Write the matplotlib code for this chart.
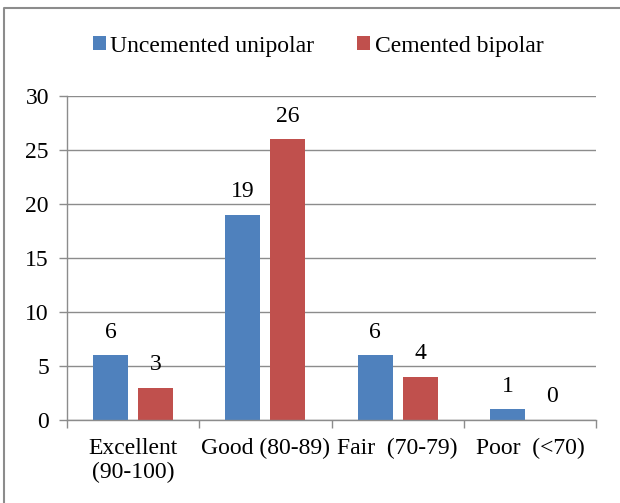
import numpy as np
import matplotlib.pyplot as plt
from matplotlib.lines import Line2D

categories = ["Excellent\n(90-100)", "Good (80-89)", "Fair  (70-79)", "Poor  (<70)"]
uncemented = [6, 19, 6, 1]
cemented = [3, 26, 4, 0]
series_names = ["Uncemented unipolar", "Cemented bipolar"]

plt.rcParams["font.family"] = ["Liberation Serif", "DejaVu Serif"]

W, H = 620, 503
fig = plt.figure(figsize=(W / 100, H / 100), dpi=100)

# outer chart border: only top and left edges are inside the picture
bx, by = 4 / W, 1 - 8 / H
fig.lines.append(Line2D([bx, bx, 1.0], [0, by, by], transform=fig.transFigure,
                        color="#8c8c8c", linewidth=1.5))

left, right, top, bottom = 67, 596, 96, 420
ax = fig.add_axes([left / W, 1 - bottom / H, (right - left) / W, (bottom - top) / H])

x = np.arange(len(categories))
width = 0.265
offset = 0.17
b1 = ax.bar(x - offset, uncemented, width, color="#4F81BD", label=series_names[0])
b2 = ax.bar(x + offset, cemented, width, color="#C0504D", label=series_names[1])

for bars, vals in [(b1, uncemented), (b2, cemented)]:
    for bar, v in zip(bars, vals):
        ax.annotate(str(v), (bar.get_x() + bar.get_width() / 2, v),
                    xytext=(0, 9), textcoords="offset points",
                    ha="center", va="bottom", fontsize=17)

ax.set_xlim(-0.5, len(categories) - 0.5)
ax.set_ylim(0, 30)
ax.set_yticks(range(0, 31, 5))
ax.yaxis.grid(True, color="#8c8c8c", linewidth=1)
ax.set_axisbelow(True)

ax.set_xticks(x)
ax.set_xticklabels(categories, fontsize=17, linespacing=1.2)
ax.set_xticks(np.arange(-0.5, len(categories), 1), minor=True)
ax.tick_params(axis="x", which="major", length=0, pad=13)
ax.tick_params(axis="x", which="minor", length=6, color="#8c8c8c", width=1)
ax.tick_params(axis="y", length=6, color="#8c8c8c", width=1, labelsize=17, pad=7)

for side in ["top", "right"]:
    ax.spines[side].set_visible(False)
for side in ["left", "bottom"]:
    ax.spines[side].set_color("#8c8c8c")
    ax.spines[side].set_linewidth(1)

fig.legend(handles=[b1, b2], loc="center", bbox_to_anchor=(318 / W, 1 - 46 / H),
           ncol=2, frameon=False, fontsize=17, handlelength=0.55, handleheight=0.55,
           handletextpad=0.2, columnspacing=1.8)

fig.savefig("out.png", dpi=100)
